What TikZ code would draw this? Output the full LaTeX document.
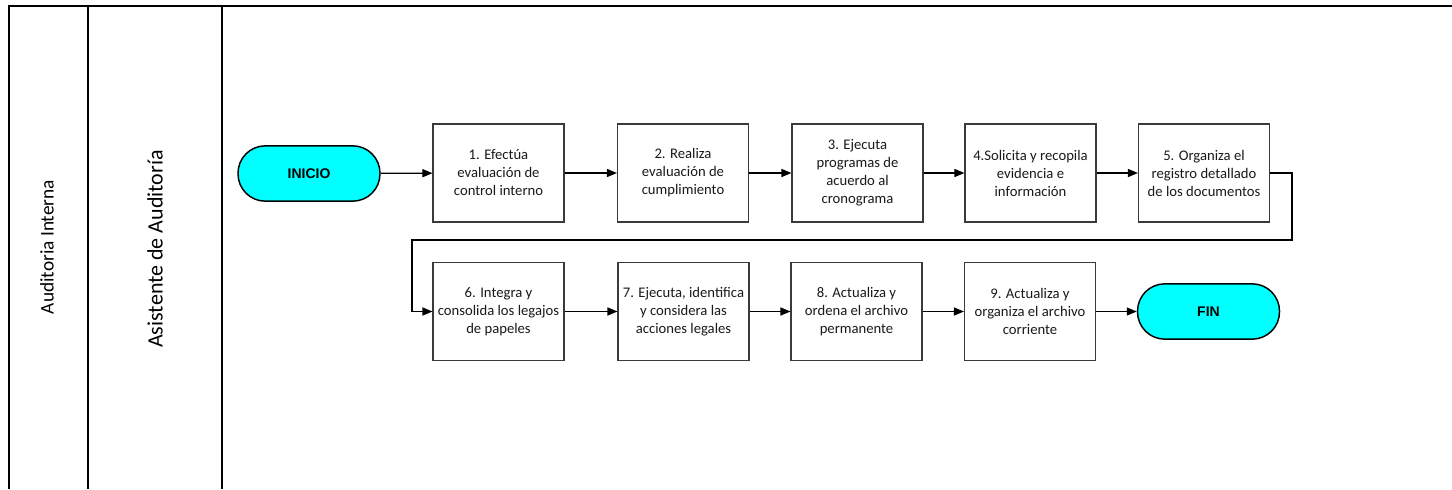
\documentclass[tikz,border=0pt]{standalone}
\usepackage{fontspec}
\setmainfont{Carlito}
\newfontfamily\arialf{Liberation Sans}
\usetikzlibrary{arrows.meta}
\definecolor{termcyan}{HTML}{00FFFF}
\definecolor{boxline}{HTML}{3A3A3A}
\definecolor{txt}{HTML}{1A1A1A}
\tikzset{
  stepbox/.style={draw=boxline, line width=0.8pt, fill=white, minimum width=98.25pt, minimum height=73.5pt, inner sep=1pt, align=center, text=txt, font=\fontsize{11}{13.5}\selectfont},
  term/.style={draw=black, line width=1.1pt, fill=termcyan, minimum width=106.5pt, minimum height=41.5pt, rounded corners=20.5pt, font=\arialf\bfseries\fontsize{10.5}{12}\selectfont},
  arr/.style={draw=black, line width=1pt, -{Triangle[length=7.5pt,width=6pt]}},
  lane/.style={draw=black, line width=1.1pt},
  lanetxt/.style={rotate=90, inner sep=0pt, text=black}
}
\begin{document}
\begin{tikzpicture}[x=0.75pt,y=-0.75pt]
\useasboundingbox (0,0) rectangle (1452,489);
% swimlane frame
\coordinate (tl) at (9,6);
\coordinate (tr) at (1452,6);
\coordinate (l1b) at (9,489);
\coordinate (l2t) at (88,6);
\coordinate (l2b) at (88,489);
\coordinate (l3t) at (222,6);
\coordinate (l3b) at (222,489);
\draw[lane] (l1b) -- (tl) -- (tr);
\draw[lane] (l2t) -- (l2b);
\draw[lane] (l3t) -- (l3b);
\node[lanetxt, font=\fontsize{14.5}{16}\selectfont] (lane1) at (47,247) {Auditoria Interna};
\node[lanetxt, font=\fontsize{16.5}{18}\selectfont] (lane2) at (155,249) {Asistente de Auditoría};
% nodes
\node[term] (ini) at (309,173.5) {INICIO};
\node[stepbox] (b1) at (498.5,173) {1. Efectúa\\evaluación de\\control interno};
\node[stepbox] (b2) at (683,173) {2. Realiza\\evaluación de\\cumplimiento};
\node[stepbox] (b3) at (857.5,173) {3. Ejecuta\\programas de\\acuerdo al\\cronograma};
\node[stepbox] (b4) at (1030.5,173) {4.Solicita y recopila\\evidencia e\\información};
\node[stepbox] (b5) at (1204,173) {5. Organiza el\\registro detallado\\de los documentos};
\node[stepbox] (b6) at (498.5,311.5) {6. Integra y\\consolida los legajos\\de papeles};
\node[stepbox] (b7) at (683.5,311.5) {7. Ejecuta, identifica\\y considera las\\acciones legales};
\node[stepbox] (b8) at (856.5,311.5) {8. Actualiza y\\ordena el archivo\\permanente};
\node[stepbox] (b9) at (1030,311.5) {9. Actualiza y\\organiza el archivo\\corriente};
\node[term] (fin) at (1208.5,311.5) {FIN};
% connectors
\draw[arr] (ini) -- (b1);
\draw[arr] (b1) -- (b2);
\draw[arr] (b2) -- (b3);
\draw[arr] (b3) -- (b4);
\draw[arr] (b4) -- (b5);
\coordinate (c1) at (1292,240);
\coordinate (c2) at (412,240);
\draw[arr] (b5.east) -| (c1) -- (c2) |- (b6.west);
\draw[arr] (b6) -- (b7);
\draw[arr] (b7) -- (b8);
\draw[arr] (b8) -- (b9);
\draw[arr] (b9) -- (fin);
\end{tikzpicture}
\end{document}
